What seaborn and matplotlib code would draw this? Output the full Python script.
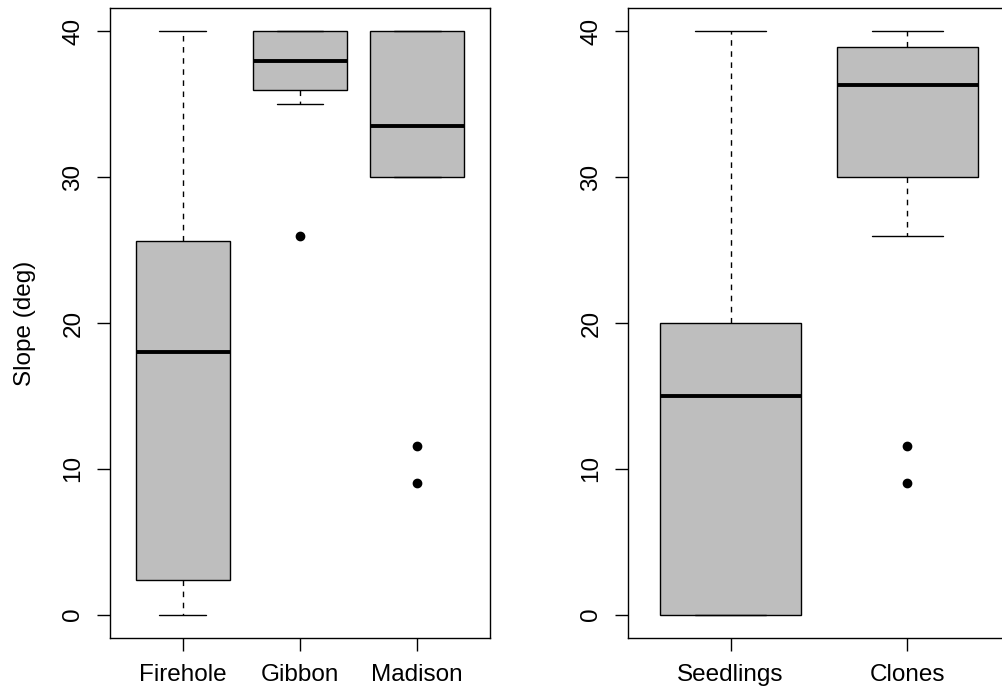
import numpy as np
import pandas as pd
import matplotlib
matplotlib.use("Agg")
import matplotlib.pyplot as plt
import seaborn as sns

# Slope observations per group, read back from the box/whisker/outlier positions
rivers = ["Firehole", "Gibbon", "Madison"]
firehole = [0, 2.4, 18, 25.6, 40]
gibbon = [26, 35, 36, 36, 38, 40, 40, 40, 40]
madison = [9, 11.6, 30, 30, 33.5, 40, 40, 40, 40]

origins = ["Seedlings", "Clones"]
seedlings = [0, 0, 15, 20, 40]
clones = [9, 11.6, 26, 30, 30, 33, 36.3, 37, 38, 38.9, 39, 40, 40]

yticks = [0, 10, 20, 30, 40]


def long_df(names, groups):
    rows = []
    for name, vals in zip(names, groups):
        rows += [{"group": name, "slope": v} for v in vals]
    return pd.DataFrame(rows)


river_df = long_df(rivers, [firehole, gibbon, madison])
origin_df = long_df(origins, [seedlings, clones])

sns.set_style("ticks")
plt.rcParams["font.family"] = ["Liberation Sans", "DejaVu Sans"]
plt.rcParams["axes.linewidth"] = 1.0
plt.rcParams["axes.edgecolor"] = "black"
plt.rcParams["text.color"] = "black"
plt.rcParams["axes.labelcolor"] = "black"
plt.rcParams["xtick.color"] = "black"
plt.rcParams["ytick.color"] = "black"

fig = plt.figure(figsize=(10.03, 6.96), dpi=100)
ax1 = fig.add_axes([110 / 1003, 58 / 696, 380 / 1003, 630 / 696])
ax2 = fig.add_axes([628 / 1003, 58 / 696, 382 / 1003, 630 / 696])

box_kw = dict(
    color="#BEBEBE", linecolor="black", linewidth=1.0, width=0.8,
    saturation=1, whis=1.5,
    medianprops=dict(color="black", linewidth=2.8),
    whiskerprops=dict(linestyle=(0, (4, 4)), linewidth=1.0),
    capprops=dict(linewidth=1.0),
    flierprops=dict(marker="o", markerfacecolor="black",
                    markeredgecolor="black", markersize=6),
)

sns.boxplot(data=river_df, x="group", y="slope", order=rivers, ax=ax1, **box_kw)
sns.boxplot(data=origin_df, x="group", y="slope", order=origins, ax=ax2, **box_kw)

for ax, n in [(ax1, 3), (ax2, 2)]:
    span = n * 0.04
    ax.set_xlim(-0.5 - span, n - 0.5 + span)
    ax.set_ylim(-1.6, 41.6)
    ax.set_yticks(yticks)
    ax.set_yticklabels([str(t) for t in yticks], rotation=90, va="center")
    ax.tick_params(axis="both", direction="out", length=9.5, width=1.0,
                   labelsize=17.5, pad=9, color="black", labelcolor="black")
    ax.set_xlabel("")
    ax.set_ylabel("")
    for s in ax.spines.values():
        s.set_visible(True)
        s.set_color("black")
        s.set_linewidth(1.0)

ax1.set_ylabel("Slope (deg)", fontsize=17.5, labelpad=19, color="black")

fig.savefig("out.png", dpi=100)
